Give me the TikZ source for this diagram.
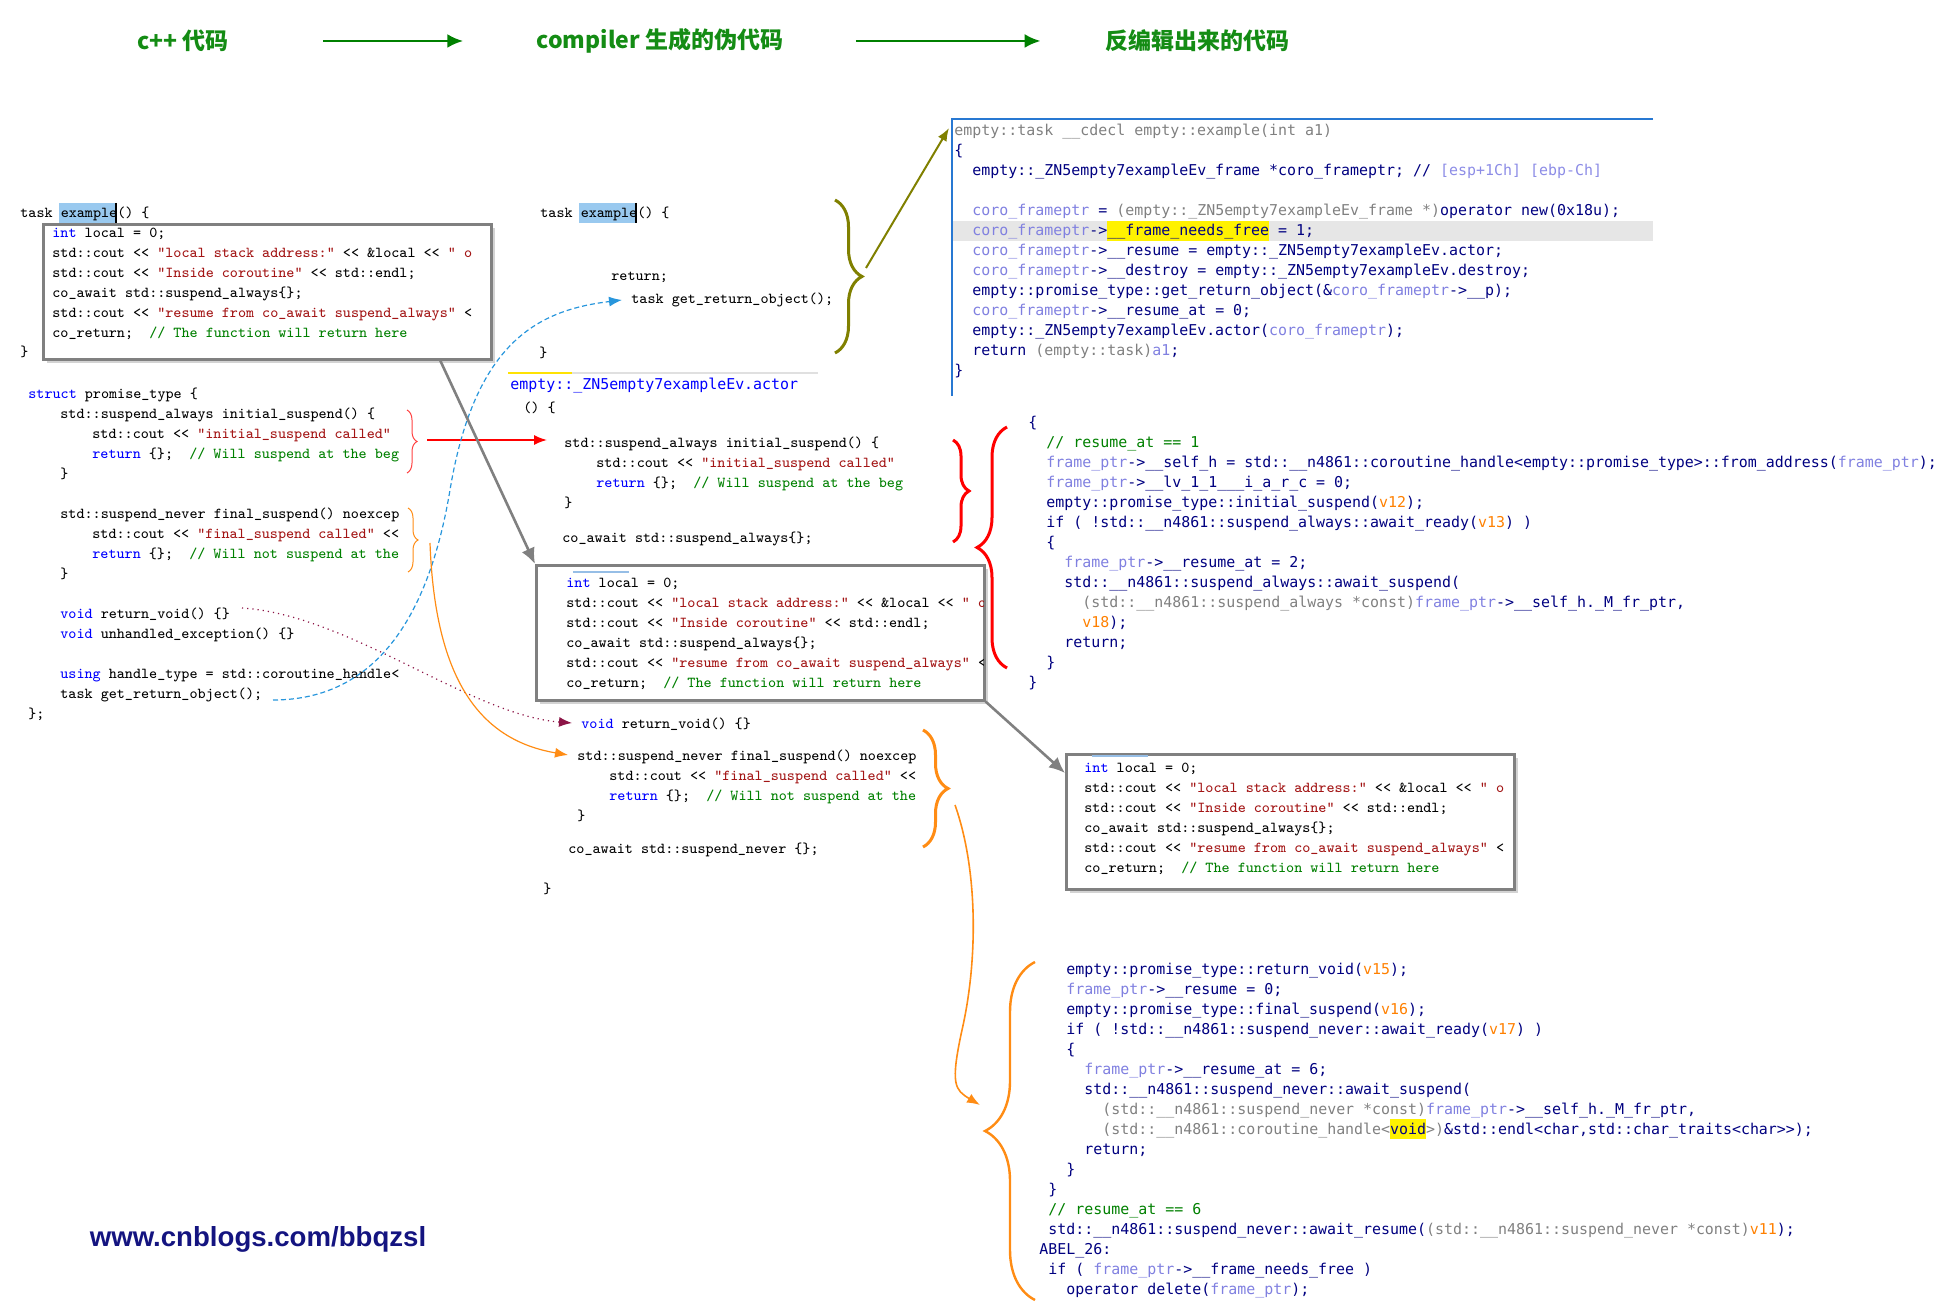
\documentclass[tikz,border=0pt]{standalone}
\usepackage{fontspec}
\newfontfamily\cjkfont{Noto Sans CJK SC}
\newfontfamily\idafont{DejaVu Sans Mono}
\newfontfamily\webfont{Liberation Sans}
\usetikzlibrary{arrows.meta,decorations.pathreplacing,shadows}

\definecolor{kwblue}{RGB}{0,0,255}
\definecolor{strred}{RGB}{163,21,21}
\definecolor{cmtgreen}{RGB}{0,128,0}
\definecolor{idanavy}{RGB}{0,0,128}
\definecolor{idagray}{RGB}{128,128,128}
\definecolor{idavar}{RGB}{128,128,224}
\definecolor{idaorange}{RGB}{255,128,0}
\definecolor{idalilac}{RGB}{140,140,230}
\definecolor{headgreen}{RGB}{20,140,20}
\definecolor{arrowgreen}{RGB}{0,128,0}
\definecolor{boxgray}{RGB}{128,128,128}
\definecolor{linkblue}{RGB}{40,150,220}
\definecolor{linkorange}{RGB}{255,140,20}
\definecolor{linkpurple}{RGB}{140,20,70}
\definecolor{braceolive}{RGB}{128,128,0}
\definecolor{selblue}{RGB}{153,201,239}
\definecolor{webnavy}{RGB}{20,20,128}
\definecolor{idablue}{RGB}{40,120,210}
\definecolor{rowgray}{RGB}{230,230,230}
\definecolor{marklight}{RGB}{150,190,230}

\newcommand\ckw[1]{\textcolor{kwblue}{#1}}
\newcommand\cstr[1]{\textcolor{strred}{#1}}
\newcommand\ccmt[1]{\textcolor{cmtgreen}{#1}}
\newcommand\idv[1]{\textcolor{idavar}{#1}}
\newcommand\idg[1]{\textcolor{idagray}{#1}}
\newcommand\ido[1]{\textcolor{idaorange}{#1}}
\newcommand\idc[1]{\textcolor{cmtgreen}{#1}}
\newcommand\cind{\hspace*{16pt}}
\newcommand\iind{\hspace*{9pt}}
\newcommand\codelines[1]{\begin{tabular}[t]{@{}l@{}}#1\end{tabular}}
\newcommand\localcode{\codelines{%
\ckw{int} local = 0;\\
std::cout << \cstr{"local stack address:"} << \&local << \cstr{" o}\\
std::cout << \cstr{"Inside coroutine"} << std::endl;\\
co\_await std::suspend\_always\{\};\\
std::cout << \cstr{"resume from co\_await suspend\_always"} <\\
co\_return;\ \ \ccmt{// The function will return here}}}

\begin{document}
\begin{tikzpicture}[x=0.5pt, y=-0.5pt,
    srcline/.style={anchor=base west, inner sep=0pt, font=\fontsize{7.6}{10}\selectfont\ttfamily},
    idaline/.style={anchor=base west, inner sep=0pt, text=idanavy, font=\fontsize{7.47}{10}\selectfont\idafont},
    headtext/.style={inner sep=0pt, text=headgreen, font=\cjkfont\bfseries\fontsize{11.5}{13}\selectfont},
    codebox/.style={draw=boxgray, line width=1.3pt, fill=white, anchor=north west, inner sep=0pt,
        minimum width=224pt, minimum height=67.5pt,
        drop shadow={opacity=0.35, shadow xshift=2pt, shadow yshift=-2pt}},
    curly/.style={decorate, decoration={brace, amplitude=#1}},
    greenarrow/.style={draw=arrowgreen, line width=1.35pt, -{Latex[length=8pt,width=7pt]}},
    graylink/.style={draw=boxgray, line width=1.3pt, -{Latex[length=8pt,width=7pt]}},
    thinlink/.style={line width=0.6pt, -{Latex[length=6.5pt,width=5pt]}}]
    \useasboundingbox (0,0) rectangle (1943,1304);

    % headings
    \node[headtext] (tCpp) at (183,41) {c++ 代码};
    \node[headtext] (tGen) at (660,41) {compiler 生成的伪代码};
    \node[headtext] (tDec) at (1197,41) {反编辑出来的代码};
    \draw[greenarrow, shorten <=47pt, shorten >=36.5pt] (tCpp) -- (tGen);
    \draw[greenarrow, shorten <=36pt, shorten >=32pt] (tGen) -- (tDec);

    % left: c++ source
    \fill[selblue] (59,203) rectangle (116,223);
    \draw[black, line width=0.6pt] (116,203) -- (116,223);
    \node[srcline] (leftHead) at (20,218) {task example() \{};
    \node[codebox] (box1) at (42,223) {};
    \begin{scope}
        \clip ([shift={(1.3pt,-1.3pt)}]box1.north west) rectangle ([shift={(-1.3pt,1.3pt)}]box1.south east);
        \node[srcline] (box1txt) at (52,238) {\localcode};
    \end{scope}
    \node[srcline] (leftEnd) at (20,357) {\}};
    \node[srcline] (leftPromise) at (28,399) {\codelines{%
        \ckw{struct} promise\_type \{\\
        \cind std::suspend\_always initial\_suspend() \{\\
        \cind\cind std::cout << \cstr{"initial\_suspend called"}\\
        \cind\cind\ckw{return} \{\};\ \ \ccmt{// Will suspend at the beg}\\
        \cind\}\\
        \\
        \cind std::suspend\_never final\_suspend() noexcep\\
        \cind\cind std::cout << \cstr{"final\_suspend called"} <<\\
        \cind\cind\ckw{return} \{\};\ \ \ccmt{// Will not suspend at the}\\
        \cind\}\\
        \\
        \cind\ckw{void} return\_void() \{\}\\
        \cind\ckw{void} unhandled\_exception() \{\}\\
        \\
        \cind\ckw{using} handle\_type = std::coroutine\_handle<\\
        \cind task get\_return\_object();\\
        \};}};

    % middle: generated pseudo code
    \fill[selblue] (579,203) rectangle (636,223);
    \draw[black, line width=0.6pt] (636,203) -- (636,223);
    \node[srcline] (midHead) at (540,218) {task example() \{};
    \node[srcline] (midRet) at (611,281) {return;};
    \node[srcline] (midGro) at (631,304) {task get\_return\_object();};
    \node[srcline] (midEnd) at (539,358) {\}};
    \draw[black!12, line width=0.8pt] (508,373) -- (818,373);
    \draw[yellow!85!orange, line width=0.8pt] (508,373) -- (572,373);
    \node[idaline, text=kwblue] (actor) at (510,390) {empty::\_ZN5empty7exampleEv.actor};
    \node[srcline] (midParen) at (523,413) {() \{};
    \node[srcline] (midInit) at (564,448) {\codelines{%
        std::suspend\_always initial\_suspend() \{\\
        \cind std::cout << \cstr{"initial\_suspend called"}\\
        \cind\ckw{return} \{\};\ \ \ccmt{// Will suspend at the beg}\\
        \}}};
    \node[srcline] (midAwait) at (562,543) {co\_await std::suspend\_always\{\};};
    \node[codebox] (box2) at (535,564) {};
    \begin{scope}
        \clip ([shift={(1.3pt,-1.3pt)}]box2.north west) rectangle ([shift={(-1.3pt,1.3pt)}]box2.south east);
        \draw[marklight, line width=1pt] (573,572) -- (629,572);
        \node[srcline] (box2txt) at (566,588) {\localcode};
    \end{scope}
    \node[srcline] (midRv) at (581,728) {\ckw{void} return\_void() \{\}};
    \node[srcline] (midFinal) at (577,760) {\codelines{%
        std::suspend\_never final\_suspend() noexcep\\
        \cind std::cout << \cstr{"final\_suspend called"} <<\\
        \cind\ckw{return} \{\};\ \ \ccmt{// Will not suspend at the}\\
        \}}};
    \node[srcline] (midNever) at (568,853) {co\_await std::suspend\_never \{\};};
    \node[srcline] (midClose) at (543,893) {\}};

    % right: decompiled code
    \draw[idablue, line width=0.7pt] (1653,119) -- (952,119) -- (952,396);
    \fill[rowgray] (953,221) rectangle (1653,241);
    \fill[yellow] (1107,221) rectangle (1269,241);
    \node[idaline] (idaTop) at (954,136) {\codelines{%
        \idg{empty::task \_\_cdecl empty::example(int a1)}\\
        \{\\
        \iind empty::\_ZN5empty7exampleEv\_frame *coro\_frameptr; // \textcolor{idalilac}{[esp+1Ch] [ebp-Ch]}\\
        \\
        \iind\idv{coro\_frameptr} = \idg{(empty::\_ZN5empty7exampleEv\_frame *)}operator new(0x18u);\\
        \iind\idv{coro\_frameptr}->\_\_frame\_needs\_free = 1;\\
        \iind\idv{coro\_frameptr}->\_\_resume = empty::\_ZN5empty7exampleEv.actor;\\
        \iind\idv{coro\_frameptr}->\_\_destroy = empty::\_ZN5empty7exampleEv.destroy;\\
        \iind empty::promise\_type::get\_return\_object(\&\idv{coro\_frameptr}->\_\_p);\\
        \iind\idv{coro\_frameptr}->\_\_resume\_at = 0;\\
        \iind empty::\_ZN5empty7exampleEv.actor(\idv{coro\_frameptr});\\
        \iind return \idg{(empty::task)}\idv{a1};\\
        \}}};
    \node[idaline] (idaMid) at (1028,428) {\codelines{%
        \{\\
        \iind\idc{// resume\_at == 1}\\
        \iind\idv{frame\_ptr}->\_\_self\_h = std::\_\_n4861::coroutine\_handle<empty::promise\_type>::from\_address(\idv{frame\_ptr});\\
        \iind\idv{frame\_ptr}->\_\_lv\_1\_1\_\_\_i\_a\_r\_c = 0;\\
        \iind empty::promise\_type::initial\_suspend(\ido{v12});\\
        \iind if ( !std::\_\_n4861::suspend\_always::await\_ready(\ido{v13}) )\\
        \iind\{\\
        \iind\iind\idv{frame\_ptr}->\_\_resume\_at = 2;\\
        \iind\iind std::\_\_n4861::suspend\_always::await\_suspend(\\
        \iind\iind\iind\idg{(std::\_\_n4861::suspend\_always *const)}\idv{frame\_ptr}->\_\_self\_h.\_M\_fr\_ptr,\\
        \iind\iind\iind\ido{v18});\\
        \iind\iind return;\\
        \iind\}\\
        \}}};
    \node[codebox] (box3) at (1065,753) {};
    \begin{scope}
        \clip ([shift={(1.3pt,-1.3pt)}]box3.north west) rectangle ([shift={(-1.3pt,1.3pt)}]box3.south east);
        \draw[marklight, line width=1pt] (1092,756) -- (1148,756);
        \node[srcline] (box3txt) at (1084,772) {\localcode};
    \end{scope}
    \fill[yellow] (1390,1119) rectangle (1426,1139);
    \node[idaline] (idaBot) at (1048,974) {\codelines{%
        \iind empty::promise\_type::return\_void(\ido{v15});\\
        \iind\idv{frame\_ptr}->\_\_resume = 0;\\
        \iind empty::promise\_type::final\_suspend(\ido{v16});\\
        \iind if ( !std::\_\_n4861::suspend\_never::await\_ready(\ido{v17}) )\\
        \iind\{\\
        \iind\iind\idv{frame\_ptr}->\_\_resume\_at = 6;\\
        \iind\iind std::\_\_n4861::suspend\_never::await\_suspend(\\
        \iind\iind\iind\idg{(std::\_\_n4861::suspend\_never *const)}\idv{frame\_ptr}->\_\_self\_h.\_M\_fr\_ptr,\\
        \iind\iind\iind\idg{(std::\_\_n4861::coroutine\_handle<}void\idg{>)}\&std::endl<char,std::char\_traits<char>>);\\
        \iind\iind return;\\
        \iind\}\\
        \}\\
        \idc{// resume\_at == 6}\\
        std::\_\_n4861::suspend\_never::await\_resume(\idg{(std::\_\_n4861::suspend\_never *const)}\ido{v11});\\
        \hspace*{-4.5pt}ABEL\_26:\\
        if ( \idv{frame\_ptr}->\_\_frame\_needs\_free )\\
        \iind operator delete(\idv{frame\_ptr});}};

    % braces
    \draw[curly=5pt, draw=red!75, line width=0.5pt] (407,410) -- (407,473);
    \draw[curly=5pt, draw=linkorange, line width=0.5pt] (408,508) -- (408,572);
    \draw[curly=13.5pt, draw=braceolive, line width=1.5pt] (835,200) -- (835,353);
    \draw[curly=12.5pt, draw=linkorange, line width=1.5pt] (923,730) -- (923,847);
    \draw[curly=8pt, draw=red, line width=1.5pt] (953,440) -- (953,542);
    \draw[curly=15pt, draw=red, line width=1.5pt] (1007,668) -- (1007,427);
    \draw[curly=25pt, draw=linkorange, line width=1.2pt] (1035,1300) -- (1035,962);

    % connectors
    \coordinate (redFrom) at (427,440);
    \coordinate (redTo) at (547,440);
    \coordinate (blueFrom) at (273,700);
    \coordinate (blueTo) at (622,300);
    \coordinate (purpleFrom) at (242,608);
    \coordinate (purpleTo) at (572,723);
    \coordinate (orangeFrom) at (430,543);
    \coordinate (orangeTo) at (568,755);
    \coordinate (longFrom) at (955,805);
    \coordinate (longTo) at (980,1105);
    \coordinate (oliveFrom) at (866,268);
    \coordinate (oliveTo) at (949,128);
    \coordinate (grayFrom) at (440,360);

    \draw[thinlink, draw=red, line width=0.8pt] (redFrom) -- (redTo);
    \draw[thinlink, draw=linkblue, dash pattern=on 2.5pt off 1.5pt] (blueFrom) .. controls (380,700) and (430,610) .. (450,490)
        .. controls (475,340) and (540,310) .. (blueTo);
    \draw[thinlink, draw=linkpurple, dotted] (purpleFrom) .. controls (350,615) and (470,715) .. (purpleTo);
    \draw[thinlink, draw=linkorange] (orangeFrom) .. controls (435,680) and (480,740) .. (orangeTo);
    \draw[thinlink, draw=linkorange, line width=0.8pt] (longFrom) .. controls (978,870) and (978,960) .. (962,1030)
        .. controls (950,1085) and (955,1090) .. (longTo);
    \draw[thinlink, draw=braceolive, line width=1pt] (oliveFrom) -- (oliveTo);
    \draw[graylink] (grayFrom) -- (box2.north west);
    \draw[graylink] (box2.south east) -- ([yshift=-10pt]box3.north west);

    \node[text=webnavy, font=\webfont\bfseries\fontsize{13.8}{15}\selectfont] (web) at (258,1239) {www.cnblogs.com/bbqzsl};
\end{tikzpicture}
\end{document}
